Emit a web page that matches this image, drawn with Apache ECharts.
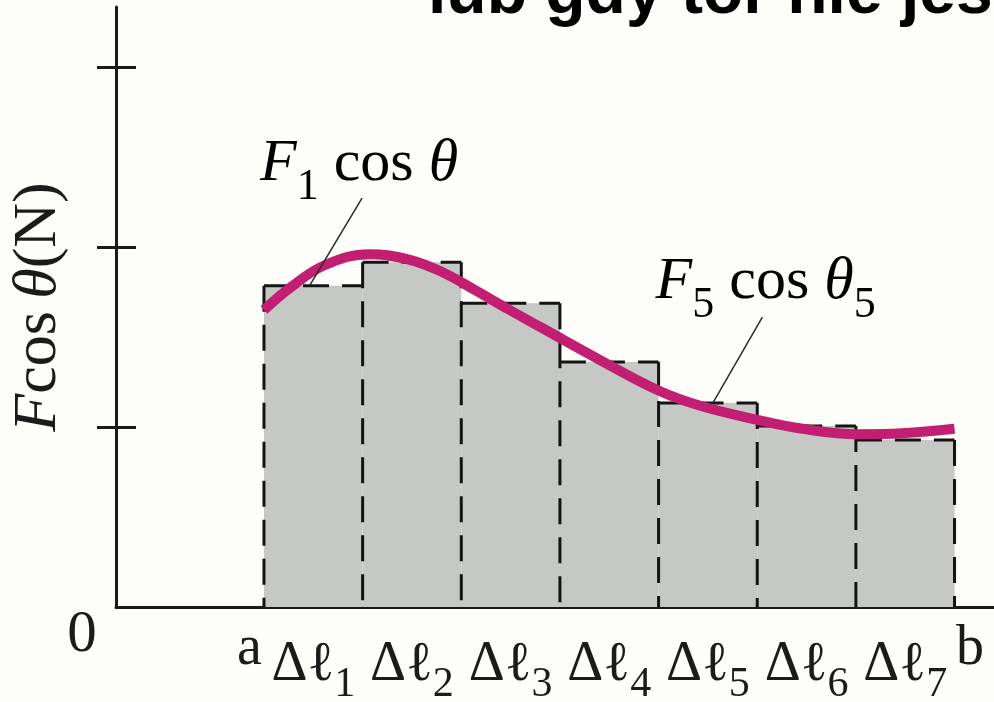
<!DOCTYPE html>
<html>
<head>
<meta charset="utf-8">
<style>
  html, body { margin: 0; padding: 0; background: #fdfdf9; }
  #chart { width: 994px; height: 702px; }
</style>
<script src="https://cdn.jsdelivr.net/npm/echarts@6/dist/echarts.min.js"></script>
</head>
<body>
<div id="chart"></div>
<script>
// Path segments Δℓ1..Δℓ7 between a and b (x in segment units)
const stripStart = [1.5, 2.5, 3.5, 4.5, 5.5, 6.5, 7.5];
const stripEnd   = [2.5, 3.5, 4.5, 5.5, 6.5, 7.5, 8.5];
// F_i cos θ_i for each segment (N)
const stripValues = [1.785, 1.915, 1.687, 1.361, 1.133, 1.006, 0.928];
const stripSubscripts = ['1', '2', '3', '4', '5', '6', '7'];

// Continuous F cos θ along the path
const curveX = [1.5, 1.78, 2.12, 2.57, 2.97, 3.31, 3.64, 3.99, 4.32, 4.93, 5.51, 5.94, 6.5, 6.96, 7.52, 7.97, 8.5];
const curveY = [1.65, 1.78, 1.9, 1.96, 1.93, 1.86, 1.76, 1.65, 1.55, 1.365, 1.2, 1.115, 1.04, 0.99, 0.96, 0.965, 0.99];

// Axis ticks and end labels
const yTickValues = [1, 2, 3];
const endPoints = [1.5, 8.5];
const endLabels = ['a', 'b'];

// Callouts: [label anchor, leader start, leader end] in data space
const callouts = [
  { text: '{i|F}{s|1}{r| cos }{i|θ}', anchor: [1.46, 2.35], from: [2.494, 2.272], to: [1.967, 1.789] },
  { text: '{i|F}{s|5}{r| cos }{i|θ}{s|5}', anchor: [5.47, 1.694], from: [6.552, 1.611], to: [6.045, 1.128] }
];

const INK = '#1b1b1b';
const SERIF = '"Liberation Serif", "DejaVu Serif", serif';
const DASH = { stroke: '#141414', lineWidth: 3, lineDash: [26, 13], fill: null };

const mainRich = {
  i: { fontFamily: SERIF, fontStyle: 'italic', fontSize: 60, lineHeight: 60, color: INK, verticalAlign: 'top' },
  r: { fontFamily: SERIF, fontSize: 60, lineHeight: 60, color: INK, verticalAlign: 'top' },
  s: { fontFamily: SERIF, fontSize: 44, lineHeight: 44, color: INK, verticalAlign: 'top', padding: [31, 0, 0, 0] }
};

const chart = echarts.init(document.getElementById('chart'), null, { renderer: 'canvas' });

const stripData = stripStart.map((s, i) => [s, stripEnd[i], stripValues[i]]);

// Outline of one strip: its top edge and its left edge (shared with the
// previous strip, drawn once up to the taller of the two); the last strip
// also closes its right edge.
function stripOutline(params, api) {
  const i = params.dataIndex;
  const x0 = api.value(0), x1 = api.value(1), v = api.value(2);
  const prev = i > 0 ? stripValues[i - 1] : 0;
  const tl = api.coord([x0, v]);
  const tr = api.coord([x1, v]);
  const leftTop = api.coord([x0, Math.max(v, prev)]);
  const leftBottom = api.coord([x0, 0]);
  const children = [
    { type: 'line', shape: { x1: tl[0], y1: tl[1], x2: tr[0], y2: tr[1] }, style: DASH },
    { type: 'line', shape: { x1: leftTop[0], y1: leftTop[1], x2: leftBottom[0], y2: leftBottom[1] }, style: DASH }
  ];
  if (i === stripValues.length - 1) {
    const rb = api.coord([x1, 0]);
    children.push({ type: 'line', shape: { x1: tr[0], y1: tr[1], x2: rb[0], y2: rb[1] }, style: DASH });
  }
  return { type: 'group', children: children };
}

const axisRange = { min: 0, max: 8.9 };

const option = {
  animation: false,
  backgroundColor: '#fdfdf9',
  grid: { left: 116, right: 0, top: 7, bottom: 95, containLabel: false, outerBoundsMode: 'none' },
  xAxis: [
    {
      type: 'value', min: axisRange.min, max: axisRange.max, position: 'bottom',
      axisLine: { show: true, onZero: false, lineStyle: { color: INK, width: 3 } },
      axisTick: { show: false },
      splitLine: { show: false },
      axisLabel: {
        show: true,
        customValues: stripStart.map((s, i) => (s + stripEnd[i]) / 2),
        margin: 30,
        formatter: function (v) {
          const idx = stripStart.findIndex((s, i) => Math.abs((s + stripEnd[i]) / 2 - v) < 1e-6);
          return idx < 0 ? '' : '{d|Δℓ}{s|' + stripSubscripts[idx] + '}';
        },
        rich: {
          d: { fontFamily: SERIF, fontSize: 56, lineHeight: 56, color: INK, verticalAlign: 'top' },
          s: { fontFamily: SERIF, fontSize: 42, lineHeight: 42, color: INK, verticalAlign: 'top', padding: [27, 0, 0, 0] }
        }
      }
    },
    {
      type: 'value', min: axisRange.min, max: axisRange.max, position: 'bottom',
      axisLine: { show: false, onZero: false },
      axisTick: { show: false },
      splitLine: { show: false },
      axisLabel: {
        show: true,
        customValues: endPoints,
        margin: 14,
        formatter: function (v) {
          const idx = endPoints.findIndex(e => Math.abs(e - v) < 1e-6);
          return idx === 0 ? '{a|' + endLabels[0] + '}' : idx === 1 ? '{b|' + endLabels[1] + '}' : '';
        },
        rich: {
          a: { fontFamily: SERIF, fontSize: 56, lineHeight: 56, color: INK, padding: [0, 29, 0, 0] },
          b: { fontFamily: SERIF, fontSize: 56, lineHeight: 56, color: INK, padding: [0, 0, 0, 31] }
        }
      }
    }
  ],
  yAxis: [
    {
      type: 'value', min: 0, max: 10 / 3, interval: 1, position: 'left',
      axisLine: { show: true, lineStyle: { color: INK, width: 3 } },
      axisTick: { show: true, customValues: yTickValues, length: 19, lineStyle: { color: INK, width: 3 } },
      axisLabel: { show: false },
      splitLine: { show: false },
      name: '{i|F}{r|cos\u2009}{i|θ}{r|(N)}',
      nameLocation: 'middle',
      nameRotate: 90,
      nameGap: 46,
      nameTextStyle: {
        rich: {
          i: { fontFamily: SERIF, fontStyle: 'italic', fontSize: 62, color: INK },
          r: { fontFamily: SERIF, fontSize: 62, color: INK }
        }
      }
    },
    {
      type: 'value', min: 0, max: 10 / 3, interval: 1, position: 'left',
      axisLine: { show: false },
      axisTick: { show: true, inside: true, customValues: yTickValues, length: 20, lineStyle: { color: INK, width: 3 } },
      axisLabel: { show: false },
      splitLine: { show: false }
    }
  ],
  series: [
    {
      name: 'strips-fill', type: 'custom', xAxisIndex: 0, yAxisIndex: 0, z: 2,
      encode: { x: [0, 1], y: 2 },
      data: stripData,
      renderItem: function (params, api) {
        const p0 = api.coord([api.value(0), api.value(2)]);
        const p1 = api.coord([api.value(1), 0]);
        return {
          type: 'rect',
          shape: { x: p0[0], y: p0[1], width: p1[0] - p0[0], height: p1[1] - p0[1] },
          style: { fill: '#c5c8c5', stroke: null }
        };
      }
    },
    {
      name: 'strips-outline', type: 'custom', xAxisIndex: 0, yAxisIndex: 0, z: 3,
      encode: { x: [0, 1], y: 2 },
      data: stripData,
      renderItem: stripOutline
    },
    {
      name: 'F cos θ', type: 'line', xAxisIndex: 0, yAxisIndex: 0, z: 4,
      data: curveX.map((x, i) => [x, curveY[i]]),
      smooth: 0.4,
      showSymbol: false,
      lineStyle: { color: '#c21f72', width: 10, cap: 'butt' }
    }
  ]
};

chart.setOption(option);

function toPx(pt) {
  return chart.convertToPixel({ xAxisIndex: 0, yAxisIndex: 0 }, pt);
}

const origin = toPx([0, 0]);
const graphics = [
  {
    type: 'text', z: 10,
    style: {
      text: 'lub gdy tor nie jes', x: 428, y: -5,
      font: 'bold 66px "Liberation Sans", Arial, sans-serif',
      fill: '#000', align: 'left', verticalAlign: 'middle'
    }
  },
  {
    type: 'text', z: 10,
    style: {
      text: '0', x: origin[0] - 34, y: origin[1] + 28,
      font: '59px ' + SERIF, fill: INK, align: 'center', verticalAlign: 'middle'
    }
  }
];

callouts.forEach(c => {
  const a = toPx(c.anchor);
  const f = toPx(c.from);
  const t = toPx(c.to);
  graphics.push({
    type: 'line', z: 10,
    shape: { x1: f[0], y1: f[1], x2: t[0], y2: t[1] },
    style: { stroke: '#2a2a2a', lineWidth: 1.5 }
  });
  graphics.push({
    type: 'text', z: 10,
    style: { text: c.text, rich: mainRich, x: a[0], y: a[1] - 50, align: 'left', verticalAlign: 'top' }
  });
});

chart.setOption({ graphic: graphics });
</script>
</body>
</html>
